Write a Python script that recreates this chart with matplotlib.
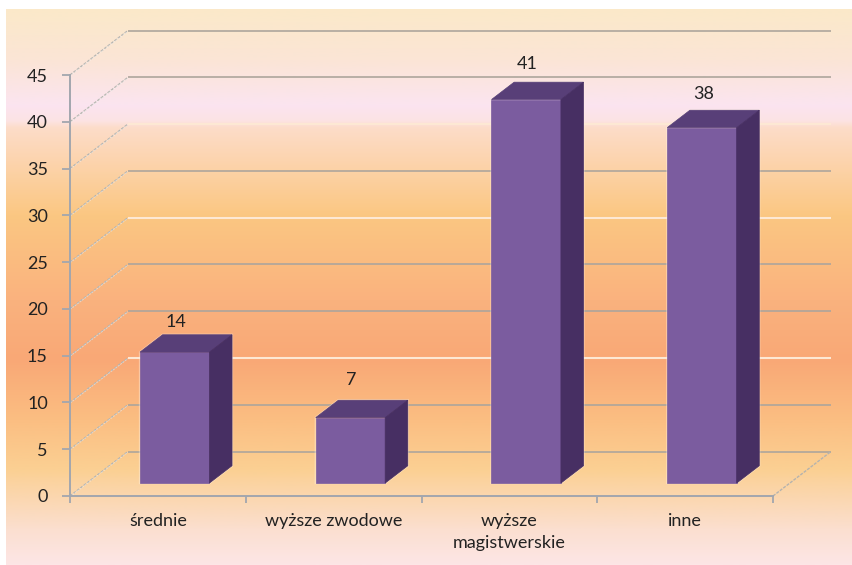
import numpy as np
import matplotlib
matplotlib.use("Agg")
import matplotlib.pyplot as plt
from matplotlib.colors import LinearSegmentedColormap, to_rgb
from matplotlib.patches import Polygon

plt.rcParams['font.family'] = ['Lato', 'DejaVu Sans']

categories = ["średnie", "wyższe zwodowe", "wyższe\nmagistwerskie", "inne"]
values = [14, 7, 41, 38]
yticks = list(range(0, 50, 5))
white_lines = [10, 25, 35]
label_lift = [21, 28, 26, 24]

W, H = 852, 565
fig = plt.figure(figsize=(W / 100, H / 100), dpi=100, facecolor="white")

# background gradient
bg = fig.add_axes([6 / W, 0, (W - 6) / W, (H - 9) / H])
stops = [(9, "#FBE9C9"), (60, "#FBE5D6"), (105, "#FBE4F0"), (120, "#FCE3E4"), (128, "#FDDCC8"),
         (215, "#FBC782"), (300, "#FAB27E"), (360, "#F9A876"), (420, "#FBBE82"),
         (470, "#FBD093"), (530, "#FBDFD0"), (565, "#FDE6E6")]
cmap = LinearSegmentedColormap.from_list(
    "bg", [((y - 9) / (565 - 9), to_rgb(c)) for y, c in stops], N=512)
bg.imshow(np.linspace(0, 1, 512)[:, None], aspect="auto", cmap=cmap, vmin=0, vmax=1)
bg.axis("off")

# plot plane: front edge of the oblique box
L, R, B, T = 70, 773, 496, 75
ax = fig.add_axes([L / W, (H - B) / H, (R - L) / W, (B - T) / H])
ax.set_xlim(0, 4)
ax.set_ylim(0, 45)
ax.patch.set_alpha(0)
DX = 58 / (R - L) * 4      # depth shift in x data units
DY = 44.5 / (B - T) * 45   # depth shift in y data units


def obl(x, y, d):
    return x + d * DX, y + d * DY


axis_col = "#A2A6AE"
dash = (0, (2.2, 0.9))
for v in yticks:
    x0, y0 = obl(0, v, 0)
    x1, y1 = obl(0, v, 1)
    x2, y2 = obl(4, v, 1)
    ax.plot([x0, x1], [y0, y1], color="#B5B3AE", lw=1, ls=dash, clip_on=False, zorder=1)
    ax.plot([x0, x1], [y0 - 0.07, y1 - 0.07], color="#FFFFFF", lw=0.7, alpha=.45, ls=dash, clip_on=False, zorder=1)
    col = "#FDE8D4" if v in white_lines else "#ADA59C"
    ax.plot([x1, x2], [y1, y2], color=col, lw=1.5 if v in white_lines else 1.2, clip_on=False, zorder=1, solid_capstyle="butt")
# floor right edge
xa, ya = obl(4, 0, 0)
xb, yb = obl(4, 0, 1)
ax.plot([xa, xb], [ya, yb], color="#B5B3AE", lw=1, ls=dash, clip_on=False, zorder=1)

# bars
front, back = 0.29, 0.68
width = 0.395
for i, v in enumerate(values):
    xl, xr = i + 0.5 - width / 2, i + 0.5 + width / 2
    f = [obl(xl, 0, front), obl(xr, 0, front), obl(xr, v, front), obl(xl, v, front)]
    top = [obl(xl, v, front), obl(xr, v, front), obl(xr, v, back), obl(xl, v, back)]
    side = [obl(xr, 0, front), obl(xr, 0, back), obl(xr, v, back), obl(xr, v, front)]
    outline = [obl(xl, 0, front), obl(xr, 0, front), obl(xr, 0, back), obl(xr, v, back), obl(xl, v, back), obl(xl, v, front)]
    ax.add_patch(Polygon(outline, closed=True, fc="none", ec="#FFF3E4", lw=1.6, alpha=.4, zorder=2, clip_on=False))
    ax.add_patch(Polygon(f, closed=True, fc="#7B5C9F", ec="#7B5C9F", lw=0.5, zorder=3, clip_on=False))
    ax.add_patch(Polygon(top, closed=True, fc="#583F78", ec="#583F78", lw=0.5, zorder=3, clip_on=False))
    ax.add_patch(Polygon(side, closed=True, fc="#472F63", ec="#472F63", lw=0.5, zorder=3, clip_on=False))
    lx, ly = obl(i + 0.5, v, 0.5)
    ax.annotate(str(v), (lx, ly), xytext=(-11, label_lift[i]), textcoords="offset pixels",
                ha="center", va="center", fontsize=13, color="#222222", zorder=4, annotation_clip=False)

ax.set_yticks(yticks)
ax.set_xticks([0, 1, 2, 3, 4])
ax.set_xticklabels([])
ax.set_xticks([0.5, 1.5, 2.5, 3.5], minor=True)
ax.set_xticklabels(categories, minor=True, fontsize=13, color="#222222", linespacing=1.5, va="top")
ax.tick_params(axis="x", which="minor", length=0, pad=12)
ax.tick_params(axis="x", which="major", length=5, width=1.3, color=axis_col)
ax.tick_params(axis="y", length=6, width=1.3, color=axis_col, labelsize=13, labelcolor="#222222", pad=10)
for s in ("top", "right"):
    ax.spines[s].set_visible(False)
for s in ("left", "bottom"):
    ax.spines[s].set_color(axis_col)
    ax.spines[s].set_linewidth(1.4)

fig.savefig("out.png", dpi=100)
